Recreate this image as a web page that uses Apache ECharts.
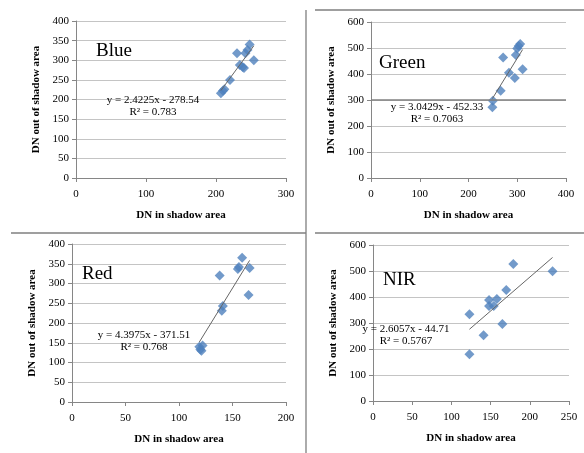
<!DOCTYPE html>
<html>
<head>
<meta charset="utf-8">
<script src="https://cdn.jsdelivr.net/npm/echarts@6/dist/echarts.min.js"></script>
<style>
  html, body { margin: 0; padding: 0; background: #fff; }
  #main { width: 584px; height: 453px; }
</style>
</head>
<body>
<div id="main"></div>
<script>
// band names
var bands = ['Blue', 'Green', 'Red', 'NIR'];

// DN in shadow area (x) / DN out of shadow area (y), per band
var blueX = [207, 210, 212, 220, 230, 234, 238, 240, 242, 245, 248, 254];
var blueY = [216, 222, 226, 250, 318, 288, 283, 280, 318, 326, 340, 300];
var greenX = [249, 250, 266, 271, 283, 295, 297, 300, 303, 306, 311];
var greenY = [272, 297, 336, 463, 405, 385, 473, 498, 508, 515, 418];
var redX = [119, 120, 121, 122, 138, 140, 141, 155, 156, 159, 165, 166];
var redY = [140, 133, 130, 143, 320, 231, 243, 337, 342, 365, 271, 339];
var nirX = [123, 123, 141, 148, 148, 154, 158, 165, 170, 179, 229];
var nirY = [334, 180, 253, 388, 365, 365, 392, 296, 427, 527, 499];

// linear trend lines as printed (slope, intercept, R²)
var slopes = [2.4225, 3.0429, 4.3975, 2.6057];
var intercepts = [-278.54, -452.33, -371.51, -44.71];
var r2 = ['0.783', '0.7063', '0.768', '0.5767'];

// axis ranges
var xMax = [300, 400, 200, 250];
var xStep = [100, 100, 50, 50];
var yMax = [400, 600, 400, 600];
var yStep = [50, 100, 50, 100];

var xs = [blueX, greenX, redX, nirX];
var ys = [blueY, greenY, redY, nirY];

var serif = '"Liberation Serif", "DejaVu Serif", serif';

var grids = [
    { left: 76, top: 21, width: 210, height: 157 },
    { left: 371, top: 22, width: 195, height: 156 },
    { left: 72, top: 244, width: 214, height: 158 },
    { left: 373, top: 245, width: 196, height: 156 }
];
var titlePos = [[96, 53], [379, 65], [82, 276], [383, 282]];
var eqPos = [[153, 106], [437, 113], [144, 341], [406, 335.5]];

var xAxes = [], yAxes = [], series = [], graphics = [];

for (var i = 0; i < 4; i++) {
    xAxes.push({
        gridIndex: i, type: 'value', min: 0, max: xMax[i], interval: xStep[i],
        name: 'DN in shadow area', nameLocation: 'middle', nameGap: 32,
        nameTextStyle: { fontFamily: serif, fontWeight: 'bold', fontSize: 11, color: '#000' },
        axisLine: { show: true, lineStyle: { color: '#868686' } },
        axisTick: { show: true, length: 4, lineStyle: { color: '#868686' } },
        axisLabel: { fontFamily: serif, fontSize: 11, color: '#000', margin: 11 },
        splitLine: { show: false }
    });
    yAxes.push({
        gridIndex: i, type: 'value', min: 0, max: yMax[i], interval: yStep[i],
        name: 'DN out of shadow area', nameLocation: 'middle', nameGap: 34,
        nameTextStyle: { fontFamily: serif, fontWeight: 'bold', fontSize: 11, color: '#000' },
        axisLine: { show: true, lineStyle: { color: '#868686' } },
        axisTick: { show: true, length: 4, lineStyle: { color: '#868686' } },
        axisLabel: { fontFamily: serif, fontSize: 11, color: '#000', margin: 7 },
        splitLine: { show: true, lineStyle: { color: '#c4c4c4' } }
    });

    var pts = xs[i].map(function (x, k) { return [x, ys[i][k]]; });
    series.push({
        type: 'scatter', xAxisIndex: i, yAxisIndex: i,
        symbol: 'diamond', symbolSize: 10,
        itemStyle: { color: '#4f81bd' },
        data: pts,
        z: 3
    });

    var lo = Math.min.apply(null, xs[i]), hi = Math.max.apply(null, xs[i]);
    series.push({
        type: 'line', xAxisIndex: i, yAxisIndex: i,
        symbol: 'none', silent: true,
        lineStyle: { color: '#666', width: 1 },
        data: [[lo, slopes[i] * lo + intercepts[i]], [hi, slopes[i] * hi + intercepts[i]]],
        z: 4,
        markLine: i === 1 ? {
            silent: true, symbol: 'none', label: { show: false },
            lineStyle: { color: '#808080', width: 1.5, type: 'solid' },
            data: [{ yAxis: 300 }]
        } : undefined
    });

    graphics.push({
        type: 'text', left: titlePos[i][0], top: titlePos[i][1] - 11,
        style: { text: bands[i], font: '19px ' + serif, fill: '#000' }
    });
    var sign = intercepts[i] < 0 ? ' - ' : ' + ';
    graphics.push({
        type: 'text', x: eqPos[i][0], y: eqPos[i][1],
        style: {
            text: 'y = ' + slopes[i] + 'x' + sign + Math.abs(intercepts[i]).toFixed(2) + '\nR² = ' + r2[i],
            font: '11px ' + serif, fill: '#000', align: 'center', verticalAlign: 'middle', lineHeight: 12
        },
        z: 10
    });
}

// panel separators
var sep = { stroke: '#7f7f7f', lineWidth: 1.3 };
graphics.push(
    { type: 'line', shape: { x1: 306, y1: 10, x2: 306, y2: 453 }, style: sep },
    { type: 'line', shape: { x1: 315, y1: 10, x2: 584, y2: 10 }, style: sep },
    { type: 'line', shape: { x1: 11, y1: 233, x2: 306, y2: 233 }, style: sep },
    { type: 'line', shape: { x1: 315, y1: 233, x2: 584, y2: 233 }, style: sep }
);

var chart = echarts.init(document.getElementById('main'));
chart.setOption({
    animation: false,
    backgroundColor: '#fff',
    grid: grids,
    xAxis: xAxes,
    yAxis: yAxes,
    series: series,
    graphic: graphics
});
</script>
</body>
</html>
